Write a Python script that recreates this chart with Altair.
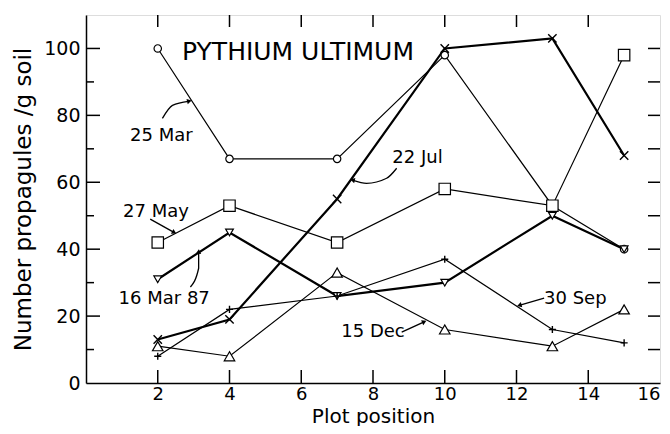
import altair as alt
import pandas as pd

# ---- data ----
positions = [2, 4, 7, 10, 13, 15]
series_names = ["25 Mar", "27 May", "22 Jul", "16 Mar 87", "30 Sep", "15 Dec"]
mar25 = [100, 67, 67, 98, 53, 40]
may27 = [42, 53, 42, 58, 53, 98]
jul22 = [13, 19, 55, 100, 103, 68]
mar16_87 = [31, 45, 26, 30, 50, 40]
sep30 = [8, 22, 26, 37, 16, 12]
dec15 = [11, 8, 33, 16, 11, 22]
series_values = [mar25, may27, jul22, mar16_87, sep30, dec15]

x_ticks = [2, 4, 6, 8, 10, 12, 14, 16]
y_ticks = [0, 20, 40, 60, 80, 100]
y_minor = [10, 30, 50, 70, 90]
inner_x_ticks = [2, 4, 6, 8, 10, 12, 14]
right_ticks = [10, 20, 30, 40, 50, 60, 70, 80, 90, 100]

# label text & positions (data units)
label_text = ["25 Mar", "22 Jul", "27 May", "16 Mar 87", "15 Dec", "30 Sep"]
label_x = [2.10, 9.24, 1.95, 2.18, 8.0, 13.64]
label_y = [73.7, 67.3, 51.2, 25.1, 15.2, 25.1]

# leader arrows (data units)
arrow_id = [0, 0, 0, 1, 1, 1, 1, 2, 2, 3, 3, 3, 4, 4, 5, 5]
arrow_x = [2.13, 2.41, 2.86, 8.66, 8.38, 7.82, 7.45, 1.79, 2.44, 2.91, 3.14, 3.14, 8.80, 9.41, 12.77, 12.10]
arrow_y = [79.1, 83.0, 84.2, 64.2, 61.2, 59.7, 60.6, 49.0, 45.1, 28.7, 34.3, 39.1, 15.2, 18.2, 25.4, 23.3]
head_x = [2.86, 7.45, 2.44, 3.14, 9.41, 12.10]
head_y = [84.2, 60.6, 45.1, 39.1, 18.2, 23.3]
head_angle = [76, 283, 119, 4, 66, 254]

title_text = ["PYTHIUM ULTIMUM"]
title_x = [5.91]
title_y = [98.8]

# ---- style per series ----
X_PATH = "M-1,-1L1,1M-1,1L1,-1"
PLUS_PATH = "M-1,0L1,0M0,-1L0,1"
styles = {
    "25 Mar": dict(shape="circle", size=55, width=1.2, fill="white"),
    "27 May": dict(shape="square", size=130, width=1.2, fill="white"),
    "22 Jul": dict(shape=X_PATH, size=70, width=2.2, fill=None),
    "16 Mar 87": dict(shape="triangle-down", size=60, width=2.2, fill="white"),
    "30 Sep": dict(shape=PLUS_PATH, size=50, width=1.2, fill=None),
    "15 Dec": dict(shape="triangle-up", size=110, width=1.2, fill="white"),
}

W, H = 574, 368
xs = alt.Scale(domain=[0, 16], nice=False, zero=False)
ys = alt.Scale(domain=[0, 110], nice=False)

FONT = "DejaVu Sans"

layers = []
first = True
for name, vals in zip(series_names, series_values):
    df = pd.DataFrame({"pos": positions, "val": vals, "series": name})
    st = styles[name]
    xenc = alt.X("pos:Q", scale=xs)
    yenc = alt.Y("val:Q", scale=ys)
    if first:
        xenc = alt.X("pos:Q", scale=xs, title="Plot position",
                     axis=alt.Axis(values=x_ticks, ticks=False, grid=False,
                                   labelFontSize=18, labelFont=FONT, labelPadding=2,
                                   titleFontSize=20, titleFont=FONT, titleFontWeight="normal",
                                   titlePadding=3, domainColor="black", domainWidth=1.5,
                                   labelColor="black", titleColor="black"))
        yenc = alt.Y("val:Q", scale=ys, title="Number propagules /g soil",
                     axis=alt.Axis(values=y_ticks, ticks=False, grid=False,
                                   labelFontSize=19, labelFont=FONT, labelPadding=6,
                                   titleFontSize=23, titleFont=FONT, titleFontWeight="normal",
                                   titlePadding=8, domainColor="black", domainWidth=1.5,
                                   labelColor="black", titleColor="black"))
        first = False
    line = alt.Chart(df).mark_line(color="black", strokeWidth=st["width"]).encode(x=xenc, y=yenc)
    layers.append(line)

for name, vals in zip(series_names, series_values):
    df = pd.DataFrame({"pos": positions, "val": vals, "series": name})
    st = styles[name]
    if st["fill"]:
        pt = alt.Chart(df).mark_point(shape=st["shape"], size=st["size"], filled=True,
                                      fill="white", stroke="black", strokeWidth=1.2, opacity=1)
    else:
        pt = alt.Chart(df).mark_point(shape=st["shape"], size=st["size"], filled=False,
                                      stroke="black", strokeWidth=1.4, opacity=1)
    layers.append(pt.encode(x=alt.X("pos:Q", scale=xs), y=alt.Y("val:Q", scale=ys)))

# leader arrows
adf = pd.DataFrame({"id": arrow_id, "x": arrow_x, "y": arrow_y, "o": list(range(len(arrow_x)))})
layers.append(alt.Chart(adf).mark_line(color="black", strokeWidth=1.3, interpolate="monotone").encode(
    x=alt.X("x:Q", scale=xs), y=alt.Y("y:Q", scale=ys), detail="id:N", order="o:Q"))
hdf = pd.DataFrame({"x": head_x, "y": head_y, "a": head_angle})
layers.append(alt.Chart(hdf).mark_point(shape="triangle", size=28, filled=True, color="black", opacity=1).encode(
    x=alt.X("x:Q", scale=xs), y=alt.Y("y:Q", scale=ys), angle=alt.Angle("a:Q", scale=None)))

# labels
ldf = pd.DataFrame({"t": label_text, "x": label_x, "y": label_y})
layers.append(alt.Chart(ldf).mark_text(font=FONT, fontSize=18, color="black", align="center", baseline="middle").encode(
    x=alt.X("x:Q", scale=xs), y=alt.Y("y:Q", scale=ys), text="t:N"))
tdf = pd.DataFrame({"t": title_text, "x": title_x, "y": title_y})
layers.append(alt.Chart(tdf).mark_text(font=FONT, fontSize=25, color="black", align="center", baseline="middle").encode(
    x=alt.X("x:Q", scale=xs), y=alt.Y("y:Q", scale=ys), text="t:N"))

# inward ticks
bt = pd.DataFrame({"x": inner_x_ticks})
layers.append(alt.Chart(bt).mark_rule(color="black", strokeWidth=1.5).encode(
    x=alt.X("x:Q", scale=xs), y=alt.value(H), y2=alt.value(H - 13)))
layers.append(alt.Chart(bt).mark_rule(color="black", strokeWidth=1.5).encode(
    x=alt.X("x:Q", scale=xs), y=alt.value(0), y2=alt.value(12)))
lt = pd.DataFrame({"y": y_ticks[1:]})
layers.append(alt.Chart(lt).mark_rule(color="black", strokeWidth=1.5).encode(
    y=alt.Y("y:Q", scale=ys), x=alt.value(0), x2=alt.value(14)))
lm = pd.DataFrame({"y": y_minor})
layers.append(alt.Chart(lm).mark_rule(color="black", strokeWidth=1.5).encode(
    y=alt.Y("y:Q", scale=ys), x=alt.value(0), x2=alt.value(8)))
rt = pd.DataFrame({"y": right_ticks})
layers.append(alt.Chart(rt).mark_rule(color="black", strokeWidth=1.5).encode(
    y=alt.Y("y:Q", scale=ys), x=alt.value(W), x2=alt.value(W - 12)))

chart = alt.layer(*layers).properties(
    width=W, height=H,
    autosize=alt.AutoSizeParams(type="none"),
    padding={"left": 78, "top": 7, "right": 2, "bottom": 43},
).configure_view(stroke="black", strokeWidth=1.5).configure(background="white")

chart.save("out.html", embed_options={"renderer": "svg", "actions": False})
